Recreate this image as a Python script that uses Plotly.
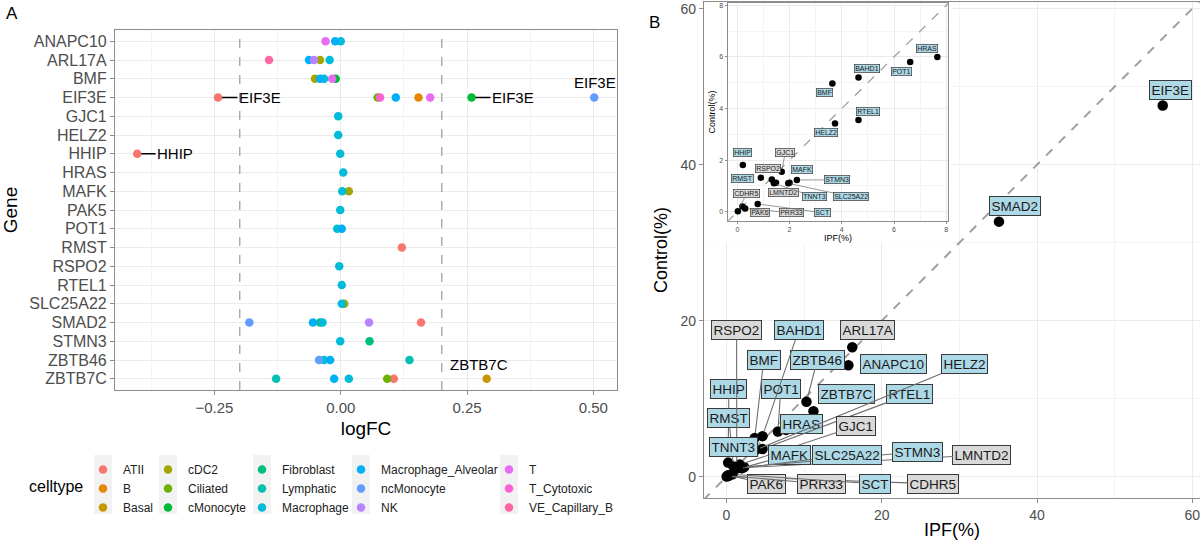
import plotly.graph_objects as go

W, H = 1200, 540
FONT = "Liberation Sans, Arial, Helvetica, sans-serif"

# ---------------- Panel A data ----------------
genes_a = ["ANAPC10", "ARL17A", "BMF", "EIF3E", "GJC1", "HELZ2", "HHIP", "HRAS", "MAFK",
           "PAK5", "POT1", "RMST", "RSPO2", "RTEL1", "SLC25A22", "SMAD2", "STMN3",
           "ZBTB46", "ZBTB7C"]

celltypes = ["ATII", "B", "Basal", "cDC2", "Ciliated", "cMonocyte", "Fibroblast", "Lymphatic",
             "Macrophage", "Macrophage_Alveolar", "ncMonocyte", "NK", "T", "T_Cytotoxic",
             "VE_Capillary_B"]
cell_colors = ["#F8766D", "#E58700", "#C99800", "#A3A500", "#6BB100", "#00BA38", "#00BF7D",
               "#00C0AF", "#00BCD8", "#00B0F6", "#619CFF", "#B983FF", "#E76BF3", "#FD61D1",
               "#FF67A4"]

pt_gene = ["ANAPC10", "ANAPC10", "ANAPC10",
           "ARL17A", "ARL17A", "ARL17A", "ARL17A", "ARL17A",
           "BMF", "BMF", "BMF", "BMF", "BMF",
           "EIF3E", "EIF3E", "EIF3E", "EIF3E", "EIF3E", "EIF3E", "EIF3E", "EIF3E",
           "GJC1", "HELZ2", "HHIP", "HHIP", "HRAS", "MAFK", "MAFK", "PAK5",
           "POT1", "POT1", "RMST", "RSPO2", "RTEL1", "SLC25A22", "SLC25A22",
           "SMAD2", "SMAD2", "SMAD2", "SMAD2", "SMAD2", "SMAD2",
           "STMN3", "STMN3",
           "ZBTB46", "ZBTB46", "ZBTB46", "ZBTB46",
           "ZBTB7C", "ZBTB7C", "ZBTB7C", "ZBTB7C", "ZBTB7C", "ZBTB7C"]
pt_cell = ["T", "Macrophage_Alveolar", "Macrophage",
           "VE_Capillary_B", "Macrophage_Alveolar", "NK", "cDC2", "Macrophage",
           "cDC2", "Macrophage_Alveolar", "Macrophage", "T", "cMonocyte",
           "ATII", "Ciliated", "T_Cytotoxic", "Macrophage_Alveolar", "B", "T", "cMonocyte", "ncMonocyte",
           "Macrophage", "Macrophage", "ATII", "Macrophage", "Macrophage", "Macrophage", "cDC2", "Macrophage",
           "Macrophage", "Macrophage_Alveolar", "ATII", "Macrophage", "Macrophage", "Macrophage", "cDC2",
           "ncMonocyte", "Macrophage_Alveolar", "Fibroblast", "Macrophage", "NK", "ATII",
           "Macrophage", "Fibroblast",
           "ncMonocyte", "Macrophage", "Macrophage_Alveolar", "Lymphatic",
           "Lymphatic", "Macrophage_Alveolar", "Macrophage", "Ciliated", "ATII", "Basal"]
pt_logfc = [-0.030, -0.011, 0.000,
            -0.142, -0.063, -0.053, -0.041, -0.022,
            -0.051, -0.041, -0.033, -0.017, -0.010,
            -0.243, 0.073, 0.078, 0.109, 0.154, 0.177, 0.259, 0.502,
            -0.005, -0.005, -0.403, -0.001, 0.005, 0.003, 0.016, -0.001,
            -0.007, 0.002, 0.121, -0.003, 0.002, 0.002, 0.007,
            -0.181, -0.055, -0.041, -0.036, 0.056, 0.159,
            -0.001, 0.057,
            -0.043, -0.033, -0.021, 0.136,
            -0.128, -0.013, 0.016, 0.092, 0.105, 0.289]

# labelled points of panel A (gene, celltype)
lab_a_gene = ["EIF3E", "HHIP", "EIF3E", "EIF3E", "ZBTB7C"]
lab_a_cell = ["ATII", "ATII", "cMonocyte", "ncMonocyte", "Basal"]

# legend columns (ggplot column-major layout)
legend_cols = [["ATII", "B", "Basal"], ["cDC2", "Ciliated", "cMonocyte"],
               ["Fibroblast", "Lymphatic", "Macrophage"],
               ["Macrophage_Alveolar", "ncMonocyte", "NK"],
               ["T", "T_Cytotoxic", "VE_Capillary_B"]]

# ---------------- Panel B data ----------------
genes_b = ["EIF3E", "SMAD2", "ARL17A", "ANAPC10", "ZBTB46", "ZBTB7C", "HRAS", "POT1", "BAHD1",
           "BMF", "RTEL1", "HELZ2", "HHIP", "RMST", "GJC1", "RSPO2", "LMNTD2", "MAFK", "STMN3",
           "TNNT3", "SLC25A22", "CDHR5", "PAK6", "PRR33", "SCT"]
ipf_pct = [56.2, 35.1, 16.2, 15.7, 10.3, 11.2, 7.66, 6.62, 4.64,
           3.64, 4.64, 3.74, 0.21, 0.90, 1.70, 1.32, 1.48, 2.00, 2.28,
           1.40, 1.95, 0.02, 0.19, 0.30, 0.78]
control_pct = [47.6, 32.7, 16.6, 14.3, 9.6, 8.4, 6.00, 5.80, 5.20,
               4.97, 3.55, 3.42, 1.81, 1.32, 1.55, 1.25, 1.12, 1.12, 1.23,
               1.10, 1.10, 0.02, 0.20, 0.12, 0.30]
highlighted = [True, True, False, True, True, True, True, True, True,
               True, True, True, True, True, False, False, False, True, True,
               True, True, False, False, False, True]

# ---------------- layout helpers (positions only) ----------------
def px_x(p):
    return p / W

def px_y(p):
    return 1 - p / H

A_X = [115, 617]
A_Y = [30, 390]
B_X = [704, 1200]
B_Y = [2, 498]
I_X = [727.7, 948.3]
I_Y = [3.3, 220.7]

A_RANGE_X = [-0.447, 0.547]
A_RANGE_Y = [18.6, -0.6]
B_RANGE_X = [-2.9, 61.0]
B_RANGE_Y = [-2.73, 60.86]
I_RANGE_X = [-0.37, 8.08]
I_RANGE_Y = [-0.35, 8.08]

# label placements (data coordinates of label centres)
lab_a_place = [(-0.160, 3), (-0.328, 6), (0.341, 3), (0.503, 2.19), (0.273, 17.23)]
lab_a_arrow = [True, True, True, False, False]

lab_main_place = {
    "EIF3E": (57.2, 49.6), "SMAD2": (37.2, 34.7), "RSPO2": (1.3, 18.8), "BAHD1": (9.3, 18.8),
    "ARL17A": (18.2, 18.8), "BMF": (4.8, 15.0), "ZBTB46": (11.7, 15.0), "ANAPC10": (21.5, 14.4),
    "HELZ2": (30.6, 14.4), "HHIP": (0.3, 11.3), "POT1": (7.0, 11.3), "ZBTB7C": (15.5, 10.6),
    "RTEL1": (23.6, 10.6), "RMST": (0.3, 7.5), "HRAS": (9.6, 6.8), "GJC1": (16.7, 6.5),
    "TNNT3": (0.9, 3.8), "MAFK": (8.1, 2.8), "SLC25A22": (15.5, 2.8), "STMN3": (24.6, 3.2),
    "LMNTD2": (32.9, 2.8), "PAK6": (5.1, -0.9), "PRR33": (12.3, -0.9), "SCT": (19.1, -0.9),
    "CDHR5": (26.6, -0.9),
}
lab_inset_place = {
    "HRAS": (7.28, 6.32), "BAHD1": (4.98, 5.55), "POT1": (6.3, 5.44), "BMF": (3.32, 4.62),
    "RTEL1": (5.02, 3.87), "HELZ2": (3.4, 3.07), "HHIP": (0.19, 2.3), "GJC1": (1.83, 2.28),
    "RSPO2": (1.19, 1.68), "MAFK": (2.47, 1.65), "RMST": (0.21, 1.29), "STMN3": (3.81, 1.23),
    "CDHR5": (0.36, 0.71), "LMNTD2": (1.76, 0.74), "TNNT3": (2.94, 0.58),
    "SLC25A22": (4.34, 0.58), "PAK6": (0.87, -0.04), "PRR33": (2.08, -0.04),
    "SCT": (3.26, -0.04),
}

GRID = "#EBEBEB"
MINOR = "#F4F4F4"
BORDER = "#8C8C8C"
TICKC = "#4D4D4D"
BLUE = "#ADD8E6"
GREY = "#D9D9D9"

fig = go.Figure()

# ---------------- Panel A traces ----------------
leg_of = {}
for i, col in enumerate(legend_cols):
    for c in col:
        leg_of[c] = "legend" if i == 0 else f"legend{i + 1}"

for c, col in zip(celltypes, cell_colors):
    xs = [v for g, cc, v in zip(pt_gene, pt_cell, pt_logfc) if cc == c]
    ys = [genes_a.index(g) for g, cc in zip(pt_gene, pt_cell) if cc == c]
    fig.add_trace(go.Scatter(
        x=xs, y=ys, mode="markers", name=c, legend=leg_of[c],
        marker=dict(color=col, size=8.5, line=dict(width=0)),
        xaxis="x", yaxis="y", showlegend=True, cliponaxis=False))

# ---------------- Panel B traces ----------------
fig.add_trace(go.Scatter(x=ipf_pct, y=control_pct, mode="markers", showlegend=False,
                         marker=dict(color="black", size=10.5), xaxis="x2", yaxis="y2"))
in_x = [x for x, y in zip(ipf_pct, control_pct) if x < 8 and y < 8]
in_y = [y for x, y in zip(ipf_pct, control_pct) if x < 8 and y < 8]
fig.add_trace(go.Scatter(x=in_x, y=in_y, mode="markers", showlegend=False,
                         marker=dict(color="black", size=6.5), xaxis="x3", yaxis="y3"))

annotations = []
shapes = []

# ---------------- Panel A labels ----------------
for g, c, (lx, ly), arr in zip(lab_a_gene, lab_a_cell, lab_a_place, lab_a_arrow):
    idx = [k for k, (gg, cc) in enumerate(zip(pt_gene, pt_cell)) if gg == g and cc == c][0]
    px_, py_ = pt_logfc[idx], genes_a.index(g)
    if arr:
        annotations.append(dict(x=px_, y=py_, xref="x", yref="y", ax=lx, ay=ly,
                                axref="x", ayref="y", text=g, showarrow=True, arrowhead=0,
                                arrowwidth=1.6, arrowcolor="black", standoff=4,
                                font=dict(size=15, color="black", family=FONT)))
    else:
        annotations.append(dict(x=lx, y=ly, xref="x", yref="y", text=g, showarrow=False,
                                font=dict(size=15, color="black", family=FONT)))

# dashed thresholds in panel A
for v in (-0.2, 0.2):
    shapes.append(dict(type="line", xref="x", yref="y", x0=v, x1=v, y0=A_RANGE_Y[0],
                       y1=A_RANGE_Y[1], line=dict(color="#A8A8A8", width=1.4, dash="dash"),
                       layer="between"))

# ---------------- Panel B labels ----------------
def add_labels(place, xr, yr, sx, sy, fsize, pad, bw, aw, standoff):
    for g, x, y, hl in zip(genes_b, ipf_pct, control_pct, highlighted):
        if g not in place:
            continue
        lx, ly = place[g]
        hw = 0.33 * fsize * len(g) + pad + 2
        hh = 0.62 * fsize + pad + 1
        dx, dy = abs(lx - x) * sx, abs(ly - y) * sy
        arrow = dx > hw + standoff + 6 or dy > hh + standoff + 6
        common = dict(xref=xr, yref=yr, text=g, bgcolor=BLUE if hl else GREY,
                      bordercolor="#3A3A3A", borderwidth=bw, borderpad=pad,
                      font=dict(size=fsize, color="#1A1A1A", family=FONT))
        if arrow:
            annotations.append(dict(x=x, y=y, ax=lx, ay=ly, axref=xr, ayref=yr,
                                    showarrow=True, arrowhead=0, arrowwidth=aw,
                                    arrowcolor="#6E6E6E", standoff=standoff, **common))
        else:
            annotations.append(dict(x=lx, y=ly, showarrow=False, **common))

b_sx = (B_X[1] - B_X[0]) / (B_RANGE_X[1] - B_RANGE_X[0])
b_sy = (B_Y[1] - B_Y[0]) / (B_RANGE_Y[1] - B_RANGE_Y[0])
i_sx = (I_X[1] - I_X[0]) / (I_RANGE_X[1] - I_RANGE_X[0])
i_sy = (I_Y[1] - I_Y[0]) / (I_RANGE_Y[1] - I_RANGE_Y[0])
add_labels(lab_main_place, "x2", "y2", b_sx, b_sy, 13.5, 1.5, 1, 1.1, 5)
add_labels(lab_inset_place, "x3", "y3", i_sx, i_sy, 7, 0.5, 0.7, 0.7, 3)

# y = x reference lines
shapes.append(dict(type="line", xref="x2", yref="y2", x0=-3, y0=-3, x1=62, y1=62,
                   line=dict(color="#A0A0A0", width=2, dash="dash"), layer="between"))
shapes.append(dict(type="line", xref="x3", yref="y3", x0=-0.4, y0=-0.4, x1=8.1, y1=8.1,
                   line=dict(color="#A0A0A0", width=1.3, dash="dash"), layer="between"))

# white area behind inset (hides main-panel grid)
shapes.append(dict(type="rect", xref="x2", yref="y2", x0=-3.5, x1=29.0, y0=30.0, y1=62,
                   fillcolor="white", line=dict(width=0), layer="between"))

# ---------------- legend key backgrounds + title ----------------
leg_dot_px = [103, 168, 262, 361, 509]
for d in leg_dot_px:
    shapes.append(dict(type="rect", xref="paper", yref="paper", x0=px_x(d - 9), x1=px_x(d + 9),
                       y0=px_y(514), y1=px_y(455), fillcolor="#F2F2F2",
                       line=dict(width=0), layer="below"))
annotations.append(dict(x=px_x(56), y=px_y(486), xref="paper", yref="paper", text="celltype",
                        xanchor="center", yanchor="middle",
                        showarrow=False, font=dict(size=16, color="black", family=FONT)))
annotations.append(dict(x=px_x(12), y=px_y(14), xref="paper", yref="paper", text="A",
                        xanchor="center", yanchor="middle",
                        showarrow=False, font=dict(size=17, color="black", family=FONT)))
annotations.append(dict(x=px_x(655), y=px_y(22), xref="paper", yref="paper", text="B",
                        xanchor="center", yanchor="middle",
                        showarrow=False, font=dict(size=17, color="black", family=FONT)))

legends = {}
for i, d in enumerate(leg_dot_px):
    key = "legend" if i == 0 else f"legend{i + 1}"
    legends[key] = dict(x=px_x(d - 20), y=px_y(455), xanchor="left", yanchor="top",
                        bgcolor="rgba(0,0,0,0)", borderwidth=0, orientation="v",
                        font=dict(size=12, color="#222222", family=FONT),
                        itemwidth=30, tracegroupgap=0)


def axis(domain, rng, tickvals=None, ticktext=None, dtick=None, minor=None, title=None,
         tfont=14, ttfont=18, ticklen=4, mirror=True, anchor=None, standoff=None,
         tickformat=None):
    d = dict(domain=domain, range=rng, showgrid=True, gridcolor=GRID, gridwidth=1,
             zeroline=False, showline=True, linecolor=BORDER, linewidth=1.2, mirror=mirror,
             ticks="outside", ticklen=ticklen, tickcolor=BORDER, tickwidth=1,
             tickfont=dict(size=tfont, color=TICKC, family=FONT), anchor=anchor,
             ticklabeloverflow="allow")
    if tickvals is not None:
        d["tickmode"] = "array"
        d["tickvals"] = tickvals
        d["ticktext"] = ticktext
    if dtick is not None:
        d["dtick"] = dtick
        d["tick0"] = 0
    if tickformat is not None:
        d["tickformat"] = tickformat
    if minor is not None:
        d["minor"] = dict(dtick=minor, tick0=0, showgrid=True, gridcolor=MINOR, gridwidth=0.7,
                          ticks="")
    if title is not None:
        d["title"] = dict(text=title, font=dict(size=ttfont, color="black", family=FONT))
        if standoff is not None:
            d["title"]["standoff"] = standoff
    return d


layout = dict(
    width=W, height=H, margin=dict(l=0, r=0, t=0, b=0),
    paper_bgcolor="white", plot_bgcolor="white",
    font=dict(family=FONT),
    xaxis=axis([px_x(A_X[0]), px_x(A_X[1])], A_RANGE_X, dtick=0.25, minor=0.125,
               title="logFC", tfont=15, ttfont=19, anchor="y", standoff=6, tickformat=".2f"),
    yaxis=axis([px_y(A_Y[1]), px_y(A_Y[0])], A_RANGE_Y, tickvals=list(range(len(genes_a))),
               ticktext=genes_a, title="Gene", tfont=16, ttfont=19, anchor="x", standoff=8),
    xaxis2=axis([px_x(B_X[0]), px_x(B_X[1])], B_RANGE_X, dtick=20, minor=10, title="IPF(%)",
                tfont=14, ttfont=18, anchor="y2", standoff=4),
    yaxis2=axis([px_y(B_Y[1]), px_y(B_Y[0])], B_RANGE_Y, dtick=20, minor=10,
                title="Control(%)", tfont=14, ttfont=18, mirror=False, anchor="x2", standoff=8),
    xaxis3=axis([px_x(I_X[0]), px_x(I_X[1])], I_RANGE_X, dtick=2, minor=1, title="IPF(%)",
                tfont=7, ttfont=9, ticklen=2, anchor="y3", standoff=2),
    yaxis3=axis([px_y(I_Y[1]), px_y(I_Y[0])], I_RANGE_Y, dtick=2, minor=1,
                title="Control(%)", tfont=7, ttfont=9, ticklen=2, anchor="x3", standoff=2),
    annotations=annotations, shapes=shapes, showlegend=True,
)
layout.update(legends)
fig.update_layout(**layout)

# the page body has an 8px default margin; remove it so the figure sits at the window origin
fig.write_html("out.html", config={"displayModeBar": False},
               post_script="document.body.style.margin='0px';document.body.style.overflow='hidden';")
